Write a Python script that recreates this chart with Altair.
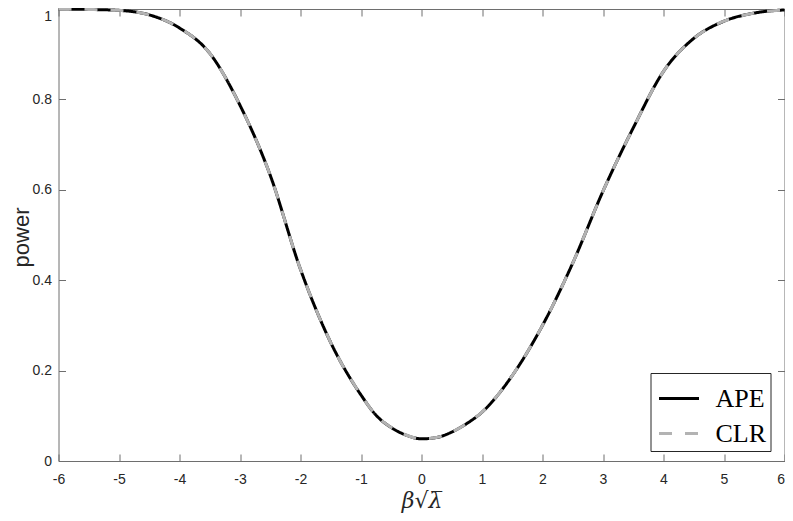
import altair as alt
import pandas as pd

# beta*sqrt(lambda) grid and power values
x_vals = [-6, -5.5, -5, -4.5, -4, -3.5, -3, -2.5, -2, -1.5, -1, -0.75, -0.5, -0.25,
          0, 0.25, 0.5, 0.75, 1, 1.5, 2, 2.5, 3, 3.5, 4, 4.5, 5, 5.5, 6]
ape_power = [1.000, 0.999, 0.997, 0.987, 0.958, 0.902, 0.787, 0.632, 0.424, 0.262,
             0.146, 0.101, 0.074, 0.057, 0.049, 0.052, 0.064, 0.083, 0.108, 0.189,
             0.300, 0.438, 0.597, 0.737, 0.862, 0.935, 0.973, 0.991, 0.998]
clr_power = [1.000, 0.999, 0.997, 0.987, 0.958, 0.902, 0.787, 0.632, 0.424, 0.262,
             0.146, 0.101, 0.074, 0.057, 0.049, 0.052, 0.064, 0.083, 0.108, 0.189,
             0.300, 0.438, 0.597, 0.737, 0.862, 0.935, 0.973, 0.991, 0.998]
series_names = ["APE", "CLR"]
x_ticks = [-6, -5, -4, -3, -2, -1, 0, 1, 2, 3, 4, 5, 6]
y_ticks = [0, 0.2, 0.4, 0.6, 0.8, 1]

rows = []
for name, vals in zip(series_names, [ape_power, clr_power]):
    for xv, pv in zip(x_vals, vals):
        rows.append({"x": xv, "power": pv, "series": name})
df = pd.DataFrame(rows)

AX = "#6e6e6e"
TXT = "#262626"

xscale = alt.Scale(domain=[-6, 6], nice=False, zero=False)
yscale = alt.Scale(domain=[0, 1], nice=False)

common = dict(domainColor=AX, tickColor=AX, grid=False, tickSize=alt.ExprRef(expr="-7"),
              domainWidth=1, tickWidth=1)

x_bottom = alt.Axis(values=x_ticks, labelExpr="'' + datum.value", labelFont="Liberation Sans",
                    labelFontSize=14, labelColor=TXT, labelPadding=18,
                    labelAlign={"condition": {"test": "datum.value == 6", "value": "right"},
                                "value": "center"},
                    title="β√λ̅", titleFont="DejaVu Serif", titleFontSize=22,
                    titleFontStyle="italic", titleFontWeight="normal", titleColor=TXT,
                    titleBaseline="alphabetic", titleY=46.5, **common)
y_left = alt.Axis(values=y_ticks, format="~g", labelFont="Liberation Sans",
                  labelFontSize=14, labelColor=TXT, labelPadding=14,
                  labelBaseline={"condition": {"test": "datum.value == 1", "value": "top"},
                                 "value": "middle"},
                  title="power", titleFont="Liberation Sans", titleFontSize=22,
                  titleFontWeight="normal", titleColor=TXT, titleAngle=-90,
                  titleBaseline="alphabetic", titleAlign="center", titleX=-30, titleY=228,
                  **common)
x_top = alt.Axis(orient="top", values=x_ticks, labels=False, title="", **common)
y_right = alt.Axis(orient="right", values=y_ticks, labels=False, title="", **common)

legend_props = dict(title=None, orient="none", legendX=592, legendY=364,
                    symbolType="stroke", symbolSize=1600, symbolStrokeWidth=3,
                    symbolOffset=3,
                    labelFont="Liberation Serif", labelFontSize=26,
                    labelColor="#000000", labelOffset=15, rowPadding=-4,
                    padding=4, strokeColor=TXT, fillColor="white", labelLimit=200)

lines = alt.Chart(df).mark_line(strokeWidth=3, interpolate="monotone").encode(
    x=alt.X("x:Q", scale=xscale, axis=x_bottom),
    y=alt.Y("power:Q", scale=yscale, axis=y_left),
    color=alt.Color("series:N", scale=alt.Scale(domain=series_names, range=["#000000", "#b3b3b3"]),
                    legend=alt.Legend(**legend_props)),
    strokeDash=alt.StrokeDash("series:N", scale=alt.Scale(domain=series_names, range=[[1, 0], [13, 13]]),
                              legend=alt.Legend(**legend_props)),
    order=alt.Order("x:Q"),
)

frame = alt.Chart(df).mark_line(opacity=0).encode(
    x=alt.X("x:Q", scale=xscale, axis=x_top),
    y=alt.Y("power:Q", scale=yscale, axis=y_right),
    detail="series:N",
)

chart = alt.layer(lines, frame).resolve_axis(x="independent", y="independent").properties(
    width=726, height=452, autosize=alt.AutoSizeParams(type="none"),
    padding={"left": 50.5, "top": 1, "right": 0, "bottom": 52},
    background="white",
).configure_view(stroke="transparent")

chart.save("out.html", embed_options={"renderer": "svg", "actions": False})
